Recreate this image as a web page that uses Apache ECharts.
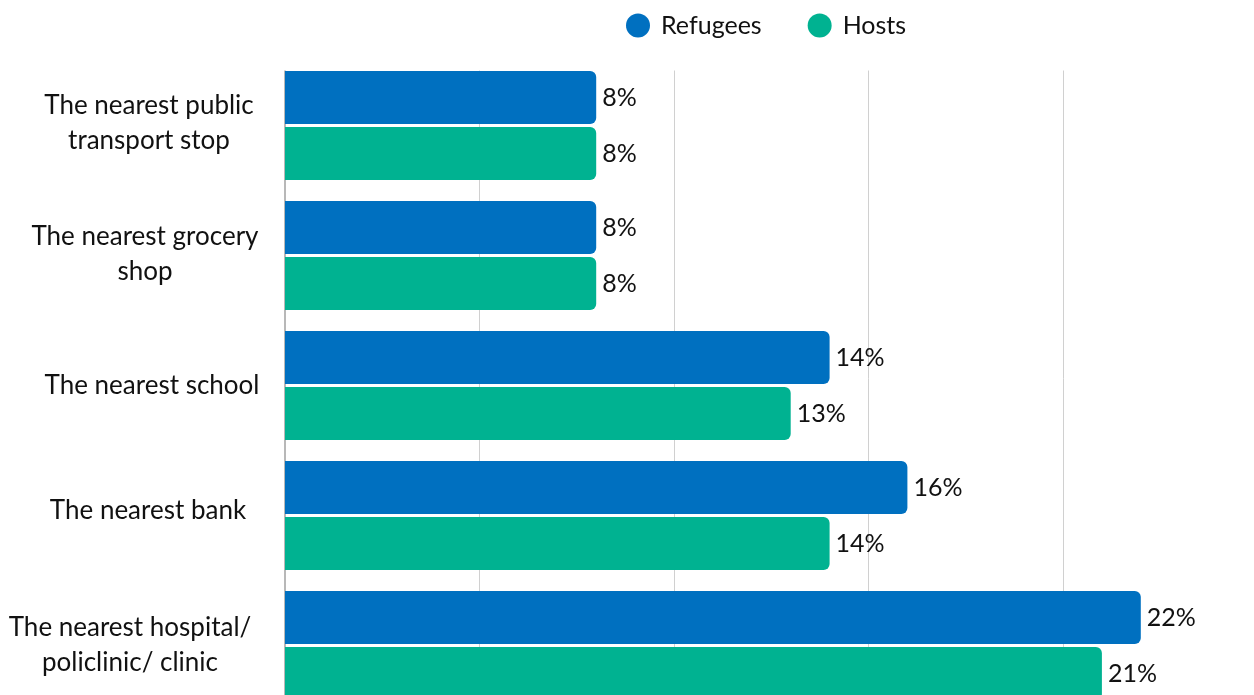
<!DOCTYPE html>
<html>
<head>
<meta charset="utf-8">
<script src="https://cdn.jsdelivr.net/npm/echarts@6/dist/echarts.min.js"></script>
<style>
  html, body { margin: 0; padding: 0; background: #fff; }
  #chart { width: 1254px; height: 695px; }
</style>
</head>
<body>
<div id="chart"></div>
<script>
// Distance to services: share of respondents per group
const categories = [
  'The nearest public\ntransport stop',
  'The nearest grocery\nshop',
  'The nearest school',
  'The nearest bank',
  'The nearest hospital/\npoliclinic/ clinic'
];
const refugees = [8, 8, 14, 16, 22];
const hosts = [8, 8, 13, 14, 21];
const xTicks = [0, 5, 10, 15, 20, 25];

const FONT = 'Lato';
const chart = echarts.init(document.getElementById('chart'), null, { renderer: 'canvas' });

const valueLabel = {
  show: true,
  position: 'right',
  distance: 6,
  formatter: p => p.value + '%',
  color: '#111',
  fontFamily: FONT,
  fontSize: 25
};

// per-row nudges of the category captions (padding: top, right, bottom, left)
const labelPads = [
  [0, 0, 5, 2],
  [0, 6, 2, 0],
  [0, 0, 0, 8],
  [0, 0, 10, 0],
  [0, 36, 0, 0]
];
const rich = {};
labelPads.forEach((pad, i) => {
  rich['c' + i] = {
    fontFamily: FONT,
    fontSize: 26,
    lineHeight: 35,
    color: '#111',
    padding: pad
  };
});

chart.setOption({
  animation: false,
  legend: {
    top: 8,
    left: 621,
    icon: 'circle',
    itemWidth: 24,
    itemHeight: 24,
    itemGap: 46,
    textStyle: { fontFamily: FONT, fontSize: 25, color: '#111', padding: [0, 0, 0, 6] },
    data: ['Refugees', 'Hosts']
  },
  // the plot runs past the lower and right edges of the canvas
  grid: {
    left: 285, top: 60.5, width: 972.5, height: 650,
    containLabel: false,
    outerBoundsMode: 'none'
  },
  xAxis: {
    type: 'value',
    min: xTicks[0],
    max: xTicks[xTicks.length - 1],
    interval: xTicks[1] - xTicks[0],
    axisLabel: { show: false },
    axisLine: { show: false },
    axisTick: { show: false },
    splitLine: { show: true, lineStyle: { color: '#d0d0d0', width: 1 } }
  },
  yAxis: {
    type: 'category',
    inverse: true,
    data: categories,
    axisTick: { show: false },
    axisLine: { show: true, lineStyle: { color: '#b8b8b8', width: 2 } },
    axisLabel: {
      margin: 137,
      align: 'center',
      fontFamily: FONT,
      fontSize: 26,
      lineHeight: 35,
      color: '#111',
      formatter: (value, idx) => value.split('\n').map(line => '{c' + idx + '|' + line + '}').join('\n'),
      rich: rich
    }
  },
  // keeps the area above the first band clear of grid lines
  graphic: [{
    type: 'rect',
    z: 1,
    shape: { x: 280, y: 50, width: 980, height: 20.5 },
    style: { fill: '#fff' }
  }],
  series: [
    {
      name: 'Refugees',
      type: 'bar',
      data: refugees,
      barWidth: 53,
      barGap: '5.7%',
      itemStyle: { color: '#0070c0', borderRadius: [0, 6, 6, 0] },
      label: valueLabel,
      z: 3
    },
    {
      name: 'Hosts',
      type: 'bar',
      data: hosts,
      barWidth: 53,
      barGap: '5.7%',
      itemStyle: { color: '#00b291', borderRadius: [0, 6, 6, 0] },
      label: valueLabel,
      z: 3
    }
  ]
});
</script>
</body>
</html>
